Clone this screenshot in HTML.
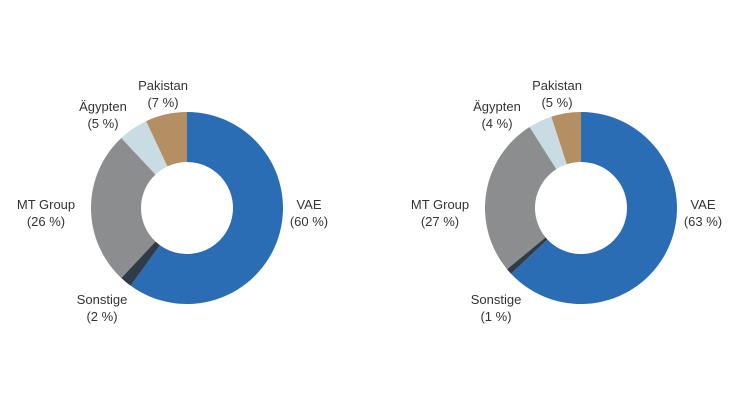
<!DOCTYPE html>
<html><head><meta charset="utf-8"><style>
html,body{margin:0;padding:0;background:#fff;}
svg{display:block;font-family:"Liberation Sans",sans-serif;}
text{font-size:13px;fill:#333;text-anchor:middle;}
</style></head><body>
<svg id="chart" width="750" height="417"></svg>
<script>
const categories = ["VAE","Sonstige","MT Group","Ägypten","Pakistan"];
const valuesLeft = [60,2,26,5,7];
const valuesRight = [63,1,27,4,5];
const colors = ["#2a6db5","#2f3b47","#8b8d8e","#c9dce3","#b38f63"];
const svg = document.getElementById('chart');
const NS = "http://www.w3.org/2000/svg";
const R = 96, r = 46;
function pt(cx, cy, rad, frac){const a = frac*2*Math.PI - Math.PI/2; return [cx+rad*Math.cos(a), cy+rad*Math.sin(a)];}
function draw(cx, cy, vals, labelPos, key){
  const g = document.createElementNS(NS,'g');
  
  
  svg.appendChild(g);
  const total = vals.reduce((a,b)=>a+b,0);
  let acc = 0;
  vals.forEach((v,i)=>{
    const f0 = acc/total, f1 = (acc+v)/total; acc += v;
    const large = (f1-f0) > 0.5 ? 1 : 0;
    const [x0,y0]=pt(cx,cy,R,f0),[x1,y1]=pt(cx,cy,R,f1),[x2,y2]=pt(cx,cy,r,f1),[x3,y3]=pt(cx,cy,r,f0);
    const p = document.createElementNS(NS,'path');
    p.setAttribute('d',`M${x0},${y0}A${R},${R} 0 ${large} 1 ${x1},${y1}L${x2},${y2}A${r},${r} 0 ${large} 0 ${x3},${y3}Z`);
    p.setAttribute('fill',colors[i]);
    
    
    g.appendChild(p);
    const [lx,ly] = labelPos[i];
    const t = document.createElementNS(NS,'text');
    t.setAttribute('x', cx+lx); t.setAttribute('y', ly);
    
    
    const s1 = document.createElementNS(NS,'tspan'); s1.setAttribute('x', cx+lx); s1.textContent = categories[i];
    const s2 = document.createElementNS(NS,'tspan'); s2.setAttribute('x', cx+lx); s2.setAttribute('dy','17'); s2.textContent = '('+v+' %)';
    t.appendChild(s1); t.appendChild(s2); g.appendChild(t);
  });
}
const labelOffsets = [[122,209],[-85,304],[-141,209],[-84,111],[-24,90]];
draw(187,208,valuesLeft,labelOffsets,'left');
draw(581,208,valuesRight,labelOffsets,'right');
</script>
</body></html>
